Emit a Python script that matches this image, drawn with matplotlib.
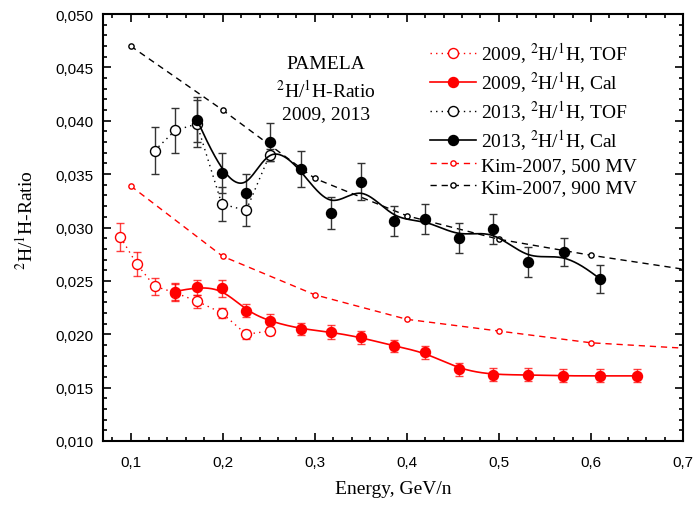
import numpy as np
import matplotlib
matplotlib.use("Agg")
import matplotlib.pyplot as plt
from matplotlib.lines import Line2D
from matplotlib.ticker import MultipleLocator, FuncFormatter

plt.rcParams['mathtext.fontset'] = 'stix'

SERIF = 'Liberation Serif'
SANS = 'Liberation Sans'

# PAMELA 2009, TOF
tof09_e = [0.089, 0.1065, 0.126, 0.148, 0.172, 0.199, 0.2255, 0.251]
tof09_r = [0.0291, 0.0266, 0.0245, 0.0239, 0.0231, 0.0220, 0.0200, 0.0203]
tof09_err = [0.0013, 0.0011, 0.0008, 0.0008, 0.0006, 0.0005, 0.0004, 0.0004]

# PAMELA 2009, Cal
cal09_e = [0.148, 0.172, 0.199, 0.2255, 0.251, 0.285, 0.3177, 0.3505, 0.3856,
           0.4203, 0.457, 0.4934, 0.5317, 0.5699, 0.6098, 0.6496]
cal09_r = [0.0240, 0.0244, 0.0243, 0.0222, 0.0212, 0.0205, 0.0202, 0.0197, 0.0189,
           0.0183, 0.0167, 0.0162, 0.0162, 0.0161, 0.0161, 0.0161]
cal09_err = [0.0008, 0.0007, 0.0008, 0.0006, 0.0007, 0.0006, 0.00065, 0.0006, 0.0006,
             0.0006, 0.0006, 0.0006, 0.0006, 0.0006, 0.0006, 0.0006]

# PAMELA 2013, TOF
tof13_e = [0.126, 0.1485, 0.172, 0.199, 0.2255, 0.251]
tof13_r = [0.0372, 0.0391, 0.0397, 0.0322, 0.0316, 0.0368]
tof13_err = [0.0022, 0.0021, 0.0022, 0.0016, 0.0015, 0.0006]

# PAMELA 2013, Cal
cal13_e = [0.172, 0.199, 0.2257, 0.251, 0.2851, 0.3177, 0.3502, 0.3856, 0.4203,
           0.4571, 0.4934, 0.532, 0.5702, 0.6098]
cal13_r = [0.0401, 0.0351, 0.0332, 0.0380, 0.0355, 0.0314, 0.0343, 0.0306, 0.0308,
           0.0290, 0.0299, 0.0268, 0.0277, 0.0252]
cal13_err = [0.0021, 0.0019, 0.0018, 0.0018, 0.0017, 0.0015, 0.0017, 0.0014, 0.0014,
             0.0014, 0.0014, 0.0014, 0.0013, 0.0013]

# Kim-2007 model curves (last value is where the curve leaves the frame)
kim_e = [0.1, 0.2, 0.3, 0.4, 0.5, 0.6, 0.7]
kim500_r = [0.0339, 0.0273, 0.0237, 0.0214, 0.0203, 0.0192, 0.0187]
kim900_r = [0.0470, 0.0410, 0.0346, 0.0311, 0.0289, 0.0274, 0.0261]

RED = '#ff0000'


def bspline(xs, ys, n=40):
    # cubic B-spline with the data points as control points (Origin style)
    p = np.column_stack([xs, ys])
    p = np.vstack([p[:1], p[:1], p, p[-1:], p[-1:]])
    t = np.linspace(0, 1, n)[:, None]
    b0 = (1 - t) ** 3 / 6
    b1 = (3 * t ** 3 - 6 * t ** 2 + 4) / 6
    b2 = (-3 * t ** 3 + 3 * t ** 2 + 3 * t + 1) / 6
    b3 = t ** 3 / 6
    segs = [b0 * p[i] + b1 * p[i + 1] + b2 * p[i + 2] + b3 * p[i + 3]
            for i in range(len(p) - 3)]
    out = np.vstack(segs)
    return out[:, 0], out[:, 1]


fig = plt.figure(figsize=(6.94, 5.06), dpi=100)
ax = fig.add_axes([103 / 694, 64 / 506, 580 / 694, 427 / 506])

dot = (0, (1, 3))
dash = (0, (4.5, 3.5))
ms = 7.2
eb = dict(fmt='none', capsize=3.1, elinewidth=1.0, capthick=1.0)

# Kim-2007
ax.plot(kim_e, kim500_r, color=RED, ls=dash, lw=1.0, marker='o', mfc='white',
        mec=RED, ms=3.8, mew=1.0, markevery=list(range(6)))
ax.plot(kim_e, kim900_r, color='black', ls=dash, lw=1.0, marker='o', mfc='white',
        mec='black', ms=3.8, mew=1.0, markevery=list(range(6)))

# 2009
ax.errorbar(tof09_e, tof09_r, yerr=tof09_err, ecolor=RED, alpha=0.75, **eb)
ax.errorbar(cal09_e, cal09_r, yerr=cal09_err, ecolor=RED, alpha=0.75, **eb)
ax.plot(tof09_e, tof09_r, color=RED, ls=dot, lw=1.0)
ax.plot(tof09_e, tof09_r, ls='none', marker='o', mfc='white', mec=RED, ms=ms, mew=1.0)
bx, by = bspline(cal09_e, cal09_r)
ax.plot(bx, by, color=RED, lw=1.2)
ax.plot(cal09_e, cal09_r, ls='none', marker='o', color=RED, ms=ms)

# 2013
ax.errorbar(tof13_e, tof13_r, yerr=tof13_err, ecolor='#333333', **eb)
ax.errorbar(cal13_e, cal13_r, yerr=cal13_err, ecolor='#333333', **eb)
ax.plot(tof13_e, tof13_r, color='black', ls=dot, lw=1.0)
ax.plot(tof13_e, tof13_r, ls='none', marker='o', mfc='white', mec='black', ms=ms, mew=1.0)
bx, by = bspline(cal13_e, cal13_r)
ax.plot(bx, by, color='black', lw=1.2)
ax.plot(cal13_e, cal13_r, ls='none', marker='o', color='black', ms=ms)

ax.set_xlim(0.07, 0.7)
ax.set_ylim(0.010, 0.050)
ax.xaxis.set_major_locator(MultipleLocator(0.1))
ax.xaxis.set_minor_locator(MultipleLocator(0.02))
ax.yaxis.set_major_locator(MultipleLocator(0.005))
ax.yaxis.set_minor_locator(MultipleLocator(0.001))
ax.xaxis.set_major_formatter(FuncFormatter(lambda v, p: f"{v:.1f}".replace('.', ',')))
ax.yaxis.set_major_formatter(FuncFormatter(lambda v, p: f"{v:.3f}".replace('.', ',')))
ax.tick_params(which='both', direction='in', top=True, right=True, width=1.2)
ax.tick_params(which='major', length=6, labelsize=11, pad=7)
ax.tick_params(axis='x', which='major', pad=10)
ax.tick_params(which='minor', length=3)
for lab in ax.get_xticklabels() + ax.get_yticklabels():
    lab.set_fontfamily(SANS)
for s in ax.spines.values():
    s.set_linewidth(1.5)

ax.set_xlabel('Energy, GeV/n', fontfamily=SERIF, fontsize=14, labelpad=8)
ax.set_ylabel(r'$^{2}$H/$^{1}$H-Ratio', fontfamily=SERIF, fontsize=14)
ax.yaxis.set_label_coords(-0.115, 0.52)

ax.text(0.385, 0.826, 'PAMELA\n' + r'$^{2}$H/$^{1}$H-Ratio' + '\n2009, 2013',
        transform=ax.transAxes, ha='center', va='center', fontfamily=SERIF,
        fontsize=14, linespacing=1.36)

handles = [
    Line2D([], [], color=RED, ls=dot, lw=1.0, marker='o', mfc='white', mec=RED, ms=ms),
    Line2D([], [], color=RED, lw=1.2, marker='o', ms=ms),
    Line2D([], [], color='black', ls=dot, lw=1.0, marker='o', mfc='white', mec='black', ms=ms),
    Line2D([], [], color='black', lw=1.2, marker='o', ms=ms),
    Line2D([], [], color=RED, ls=dash, lw=1.0, marker='o', mfc='white', mec=RED, ms=3.8),
    Line2D([], [], color='black', ls=dash, lw=1.0, marker='o', mfc='white', mec='black', ms=3.8),
]
labels = [
    r'2009, $^{2}$H/$^{1}$H, TOF',
    r'2009, $^{2}$H/$^{1}$H, Cal',
    r'2013, $^{2}$H/$^{1}$H, TOF',
    r'2013, $^{2}$H/$^{1}$H, Cal',
    'Kim-2007, 500 MV',
    'Kim-2007, 900 MV',
]
ax.legend(handles, labels, loc='upper left', bbox_to_anchor=(0.564, 0.938),
          frameon=False, prop={'family': SERIF, 'size': 14}, handlelength=2.37,
          handletextpad=0.27, labelspacing=0.22, borderaxespad=0, borderpad=0)

fig.savefig('out.png', dpi=100)
